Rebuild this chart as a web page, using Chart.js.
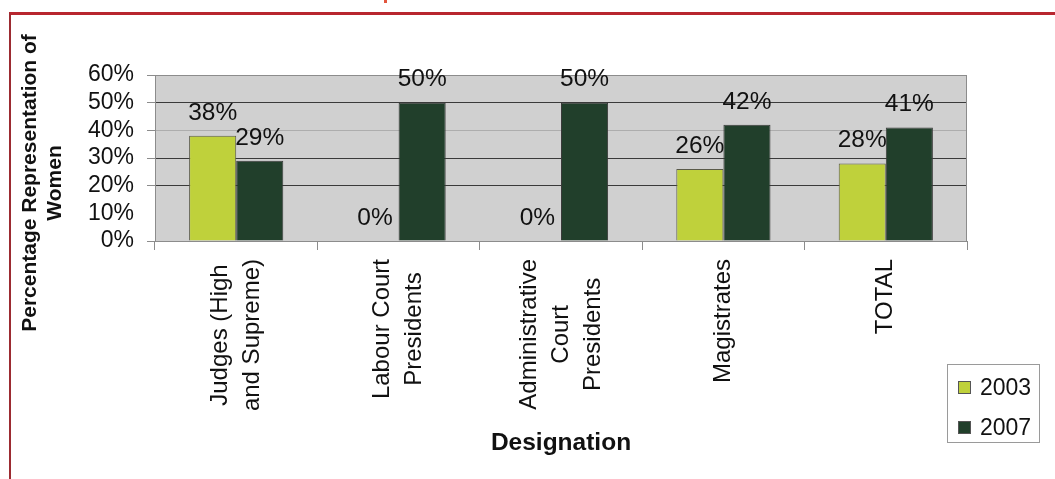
<!DOCTYPE html>
<html>
<head>
<meta charset="utf-8">
<script src="https://cdn.jsdelivr.net/npm/chart.js@4.4.1/dist/chart.umd.min.js"></script>
<style>
  html, body { margin: 0; padding: 0; background: #fff; }
  #wrap { position: relative; width: 1055px; height: 479px; overflow: hidden; }
  #frame { position: absolute; left: 9px; top: 12px; right: -5px; bottom: -5px;
           border-top: 3px solid #b8262f; border-left: 2px solid #9c2b31; }
  #mark { position: absolute; left: 384px; top: 0; width: 3px; height: 3px; background: #e2553d; }
  canvas { position: absolute; left: 0; top: 0; }
</style>
</head>
<body>
<div id="wrap">
  <div id="frame"></div>
  <div id="mark"></div>
  <canvas id="chart" width="1055" height="479"></canvas>
</div>
<script>
// data
const categories = [
  ['Judges (High', 'and Supreme)'],
  ['Labour Court', 'Presidents'],
  ['Administrative', 'Court', 'Presidents'],
  ['Magistrates'],
  ['TOTAL']
];
const values2003 = [38, 0, 0, 26, 28];
const values2007 = [29, 50, 50, 42, 41];
const seriesNames = ['2003', '2007'];
const seriesColors = ['#bfd13b', '#213f2b'];
const yTicks = [0, 10, 20, 30, 40, 50, 60];
const yTitle = ['Percentage Representation of', 'Women'];
const xTitle = 'Designation';

const FONT = "'Liberation Sans', Arial, Helvetica, sans-serif";

function gridColor(ctx) {
  const v = ctx.tick.value;
  if (v === 10) return 'rgba(0,0,0,0)';
  if (v === 40) return '#adadad';
  if (v === 0 || v === 60) return '#8c8c8c';
  return '#3a3a3a';
}
function tickColor(ctx) {
  const v = ctx.tick.value;
  if (v === 10) return 'rgba(0,0,0,0)';
  return '#8c8c8c';
}

// grey plot background + frame
const plotFrame = {
  id: 'plotFrame',
  beforeDraw(chart) {
    const a = chart.chartArea, c = chart.ctx;
    c.save();
    c.fillStyle = '#d0d0d0';
    c.fillRect(a.left, a.top, a.right - a.left, a.bottom - a.top);
    c.restore();
  },
  afterDatasetsDraw(chart) {
    const a = chart.chartArea, c = chart.ctx;
    c.save();
    c.strokeStyle = '#8c8c8c';
    c.lineWidth = 1;
    c.strokeRect(a.left + 0.5, a.top + 0.5, a.right - a.left - 1, a.bottom - a.top);
    c.restore();
  }
};

// value labels, category labels, y title, legend
const extras = {
  id: 'extras',
  afterDraw(chart) {
    const c = chart.ctx;
    c.save();
    c.fillStyle = '#111';

    // value labels above bars
    c.font = '24.5px ' + FONT;
    c.textAlign = 'center';
    c.textBaseline = 'middle';
    chart.data.datasets.forEach((ds, i) => {
      chart.getDatasetMeta(i).data.forEach((bar, j) => {
        c.fillText(ds.data[j] + '%', bar.x, bar.y - 23);
      });
    });

    // rotated category labels, lines centred in their block
    const xs = chart.scales.x;
    c.font = '24px ' + FONT;
    categories.forEach((lines, i) => {
      const x = xs.getPixelForTick(i);
      const w = Math.max(...lines.map(l => c.measureText(l).width));
      c.save();
      c.translate(x, xs.top + 18 + w / 2);
      c.rotate(-Math.PI / 2);
      lines.forEach((l, k) => c.fillText(l, 0, (k - (lines.length - 1) / 2) * 32));
      c.restore();
    });

    // y axis title
    c.font = 'bold 21px ' + FONT;
    c.save();
    c.translate(43, 183);
    c.rotate(-Math.PI / 2);
    yTitle.forEach((l, k) => c.fillText(l, 0, (k - (yTitle.length - 1) / 2) * 25));
    c.restore();

    // legend box
    const lx = 947, ly = 364, lw = 92, lh = 78;
    c.strokeStyle = '#9a9a9a';
    c.lineWidth = 1;
    c.strokeRect(lx + 0.5, ly + 0.5, lw, lh);
    c.font = '23px ' + FONT;
    c.textAlign = 'left';
    seriesNames.forEach((name, k) => {
      const cy = ly + 24 + k * 40;
      c.fillStyle = seriesColors[k];
      c.fillRect(lx + 11, cy - 7, 13, 13);
      c.strokeStyle = '#555';
      c.strokeRect(lx + 11.5, cy - 6.5, 12, 12);
      c.fillStyle = '#111';
      c.fillText(name, lx + 33, cy + 1);
    });
    c.restore();
  }
};

new Chart(document.getElementById('chart'), {
  type: 'bar',
  data: {
    labels: categories,
    datasets: [
      { label: seriesNames[0], data: values2003, backgroundColor: seriesColors[0],
        borderColor: '#5a5a4a', borderWidth: 1, categoryPercentage: 0.58, barPercentage: 1.0 },
      { label: seriesNames[1], data: values2007, backgroundColor: seriesColors[1],
        borderColor: '#3a3a3a', borderWidth: 1, categoryPercentage: 0.58, barPercentage: 1.0 }
    ]
  },
  options: {
    responsive: false,
    animation: false,
    layout: { padding: { top: 75, right: 88, left: 0, bottom: 0 } },
    plugins: {
      legend: { display: false },
      tooltip: { enabled: false }
    },
    scales: {
      x: {
        grid: { drawOnChartArea: false, drawTicks: true, tickLength: 9, color: '#8c8c8c', offset: true },
        border: { display: false },
        ticks: { display: false },
        title: {
          display: true, text: xTitle, color: '#111',
          font: { family: FONT, size: 24.5, weight: 'bold' },
          padding: { top: 0, bottom: 21 }
        },
        afterFit(scale) { scale.height = 479 - 75 - 166; }
      },
      y: {
        min: 0, max: 60,
        afterBuildTicks(scale) { scale.ticks = yTicks.map(v => ({ value: v })); },
        grid: { color: gridColor, tickColor: tickColor, tickLength: 8 },
        border: { display: false },
        ticks: {
          color: '#111', padding: 13, autoSkip: false,
          font: { family: FONT, size: 23 },
          callback: v => v + '%'
        },
        afterFit(scale) { scale.width = 155; }
      }
    }
  },
  plugins: [plotFrame, extras]
});
</script>
</body>
</html>
